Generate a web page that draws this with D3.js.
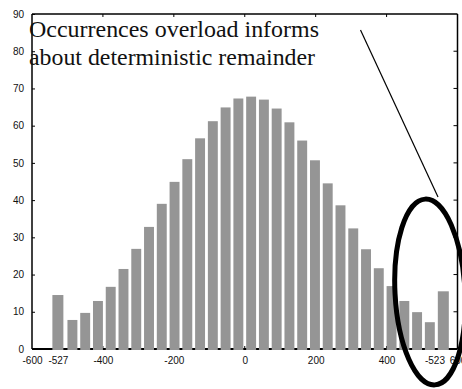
<!DOCTYPE html>
<html>
<head>
<meta charset="utf-8">
<script src="https://cdn.jsdelivr.net/npm/d3@7"></script>
<style>
  html, body { margin: 0; padding: 0; background: #fff; }
  svg { display: block; }
</style>
</head>
<body>
<svg id="chart" width="462" height="389"></svg>
<script>
// Bin centres of the histogram; the first and last bins collect the remainder.
const binCenters = [-527, -486, -450, -414, -378, -342, -306, -270, -234, -198, -162,
  -126, -90, -54, -18, 18, 54, 90, 126, 162, 198, 234, 270, 306, 342, 378,
  414, 450, 486, 522, 560];
const occurrences = [14.5, 7.8, 9.7, 12.9, 16.7, 21.5, 26.9, 32.8, 39.0, 44.9, 51.0,
  56.6, 61.2, 64.9, 67.3, 67.8, 67.0, 64.6, 60.9, 56.0, 50.7, 44.5, 38.6, 32.4, 26.8, 21.7,
  16.9, 12.9, 9.9, 7.2, 15.5];

const xTickValues = [-600, -527, -400, -200, 0, 200, 400, 535, 600];
const xTickLabels = ["-600", "-527", "-400", "-200", "0", "200", "400", "-523", "600"];
const xFrameTicks = [-400, -200, 0, 200, 400];
const yTickValues = [0, 10, 20, 30, 40, 50, 60, 70, 80, 90];
const yFrameTicks = [10, 20, 30, 40, 50, 60, 70, 80];
const titleLines = ["Occurrences overload informs", "about deterministic remainder"];
const titleWidths = [290, 286];

const svg = d3.select("#chart");
const plotLeft = 32, plotRight = 457.5, plotTop = 14, plotBottom = 349;

const x = d3.scaleLinear().domain([-600, 600]).range([plotLeft, plotRight]);
const y = d3.scaleLinear().domain([0, 90]).range([plotBottom, plotTop]);

const tickFont = "'Liberation Sans', Arial, sans-serif";

// frame
const frame = svg.append("g").attr("fill", "none").attr("stroke", "#000");
frame.append("line").attr("x1", plotLeft).attr("x2", plotLeft).attr("y1", plotTop).attr("y2", plotBottom).attr("stroke-width", 1.5);
frame.append("line").attr("x1", plotLeft).attr("x2", plotRight).attr("y1", plotTop).attr("y2", plotTop).attr("stroke-width", 1.5);
frame.append("line").attr("x1", plotRight).attr("x2", plotRight).attr("y1", plotTop).attr("y2", plotBottom).attr("stroke-width", 1.5);
frame.append("line").attr("x1", plotLeft).attr("x2", plotRight).attr("y1", plotBottom).attr("y2", plotBottom).attr("stroke-width", 2.2);

// inner tick marks on top/bottom/right edges
frame.selectAll(".tt").data(xFrameTicks).join("line").attr("class", "tt")
  .attr("x1", d => x(d)).attr("x2", d => x(d)).attr("y1", plotTop).attr("y2", plotTop + 3);
frame.selectAll(".bt").data(xFrameTicks).join("line").attr("class", "bt")
  .attr("x1", d => x(d)).attr("x2", d => x(d)).attr("y1", plotBottom).attr("y2", plotBottom - 3);
frame.selectAll(".rt").data(yFrameTicks).join("line").attr("class", "rt")
  .attr("x1", plotRight).attr("x2", plotRight - 4).attr("y1", d => y(d)).attr("y2", d => y(d));

// left axis
const yAxis = d3.axisLeft(y).tickValues(yTickValues).tickSizeInner(-3).tickSizeOuter(0).tickPadding(8);
const gy = svg.append("g").attr("transform", `translate(${plotLeft},0)`).call(yAxis);
gy.select(".domain").remove();
gy.selectAll("text").attr("font-family", tickFont).attr("font-size", 10).attr("fill", "#111");

// bottom axis
const xAxis = d3.axisBottom(x).tickValues(xTickValues)
  .tickFormat((d, i) => xTickLabels[i]).tickSize(0).tickPadding(8);
const gx = svg.append("g").attr("transform", `translate(0,${plotBottom})`).call(xAxis);
gx.select(".domain").remove();
gx.selectAll("text").attr("font-family", tickFont).attr("font-size", 10).attr("fill", "#111");

// bars
const last = binCenters.length - 1;
const barWidth = i => (i === 0 || i === last) ? 31 : 28;
svg.append("g").selectAll("rect").data(occurrences).join("rect")
  .attr("x", (d, i) => x(binCenters[i] - barWidth(i) / 2))
  .attr("width", (d, i) => x(binCenters[i] + barWidth(i) / 2) - x(binCenters[i] - barWidth(i) / 2))
  .attr("y", d => y(d))
  .attr("height", d => y(0) - y(d) + 1)
  .attr("fill", "#959595");

// annotation text
svg.append("g").selectAll("text").data(titleLines).join("text")
  .attr("x", 29).attr("y", (d, i) => 37 + i * 28)
  .attr("font-family", "'Liberation Serif', 'Times New Roman', serif")
  .attr("font-size", 22.5)
  .attr("textLength", (d, i) => titleWidths[i])
  .attr("lengthAdjust", "spacingAndGlyphs")
  .attr("fill", "#111")
  .text(d => d);

// pointer line and circled region
svg.append("line")
  .attr("x1", 360.5).attr("y1", 30).attr("x2", 438).attr("y2", 197)
  .attr("stroke", "#000").attr("stroke-width", 1.2);
svg.append("ellipse")
  .attr("cx", 430).attr("cy", 292).attr("rx", 35).attr("ry", 93)
  .attr("transform", "rotate(-3 430 292)")
  .attr("fill", "none").attr("stroke", "#000").attr("stroke-width", 5);
</script>
</body>
</html>
